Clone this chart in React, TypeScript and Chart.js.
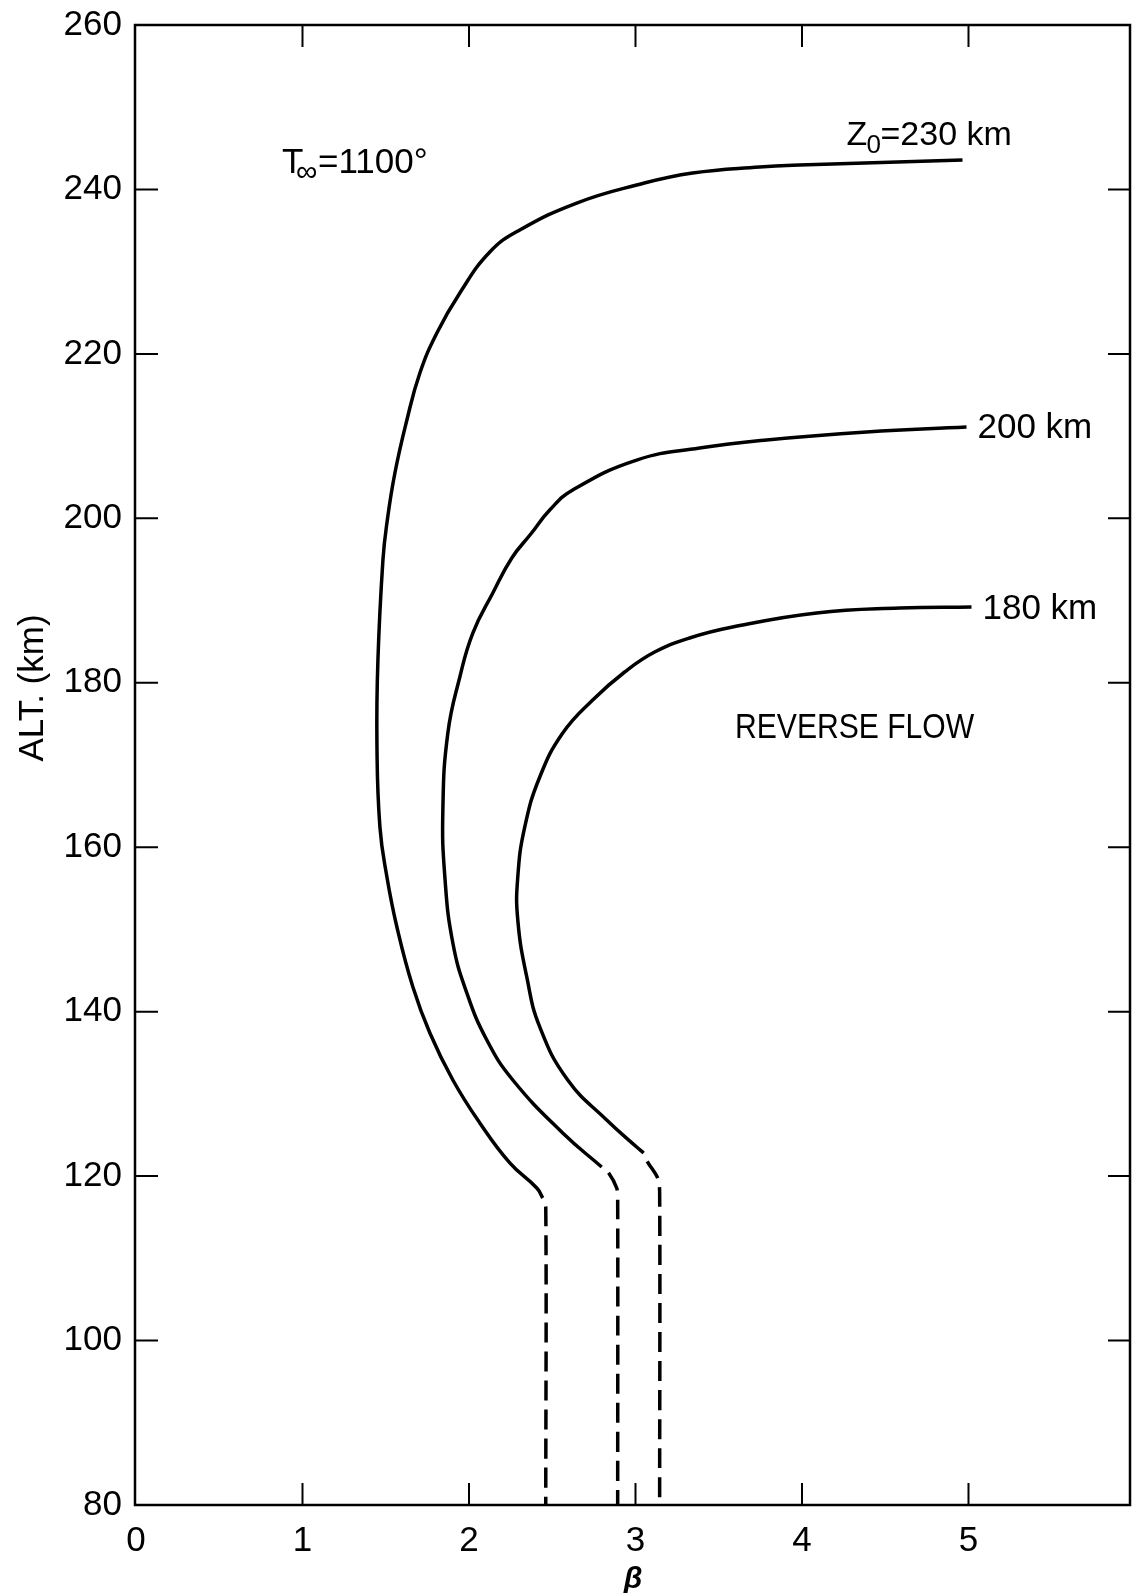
import React, { useEffect, useRef } from "react";
import { Chart, registerables } from "chart.js";

Chart.register(...registerables);

// Axis ticks
const betaTicks = [0, 1, 2, 3, 4, 5];
const altTicks = [80, 100, 120, 140, 160, 180, 200, 220, 240, 260];
const betaInnerTicks = [1, 2, 3, 4, 5];
const altInnerTicks = [100, 120, 140, 160, 180, 200, 220, 240];

// Z0 = 230 km profile (solid part, from the upper end down to the kink)
const z230Beta = [4.964, 3.986, 3.745, 3.343, 3.007, 2.647, 2.305, 2.125, 1.945, 1.807, 1.705, 1.627, 1.555, 1.507, 1.483, 1.453, 1.447, 1.465, 1.507, 1.567, 1.663, 1.765, 1.903, 2.065, 2.245, 2.407, 2.443];
const z230Alt = [243.58, 242.97, 242.73, 242.0, 240.54, 238.35, 235.07, 232.39, 227.41, 222.54, 217.68, 211.96, 205.51, 199.43, 194.93, 182.77, 172.68, 162.46, 156.38, 150.3, 143.0, 137.41, 131.69, 126.46, 121.6, 118.55, 117.34];
// dashed continuation below the kink
const z230DashBeta = [2.443, 2.461, 2.461];
const z230DashAlt = [117.34, 116.24, 80];

// Z0 = 200 km profile
const z200Beta = [4.988, 4.388, 3.788, 3.385, 3.007, 2.623, 2.485, 2.371, 2.257, 2.143, 2.023, 1.945, 1.873, 1.843, 1.855, 1.903, 1.987, 2.107, 2.263, 2.563, 2.797];
const z200Alt = [211.11, 210.5, 209.53, 208.55, 207.09, 203.45, 201.01, 198.09, 195.18, 190.92, 186.05, 180.7, 173.89, 164.53, 156.38, 148.35, 142.27, 136.55, 131.69, 125.24, 121.11];
const z200DashBeta = [2.797, 2.839, 2.887, 2.893, 2.893];
const z200DashAlt = [121.11, 120.38, 118.55, 117.09, 80];

// Z0 = 180 km profile
const z180Beta = [5.018, 4.586, 4.088, 3.583, 3.325, 3.115, 2.935, 2.743, 2.563, 2.425, 2.335, 2.293, 2.293, 2.347, 2.425, 2.593, 2.827, 3.007, 3.049];
const z180Alt = [189.22, 189.09, 188.49, 186.78, 185.45, 183.74, 181.31, 177.91, 173.89, 168.54, 162.46, 156.38, 151.15, 144.22, 138.14, 131.69, 126.82, 123.54, 122.81];
const z180DashBeta = [3.049, 3.073, 3.133, 3.145, 3.145];
const z180DashAlt = [122.81, 121.71, 119.77, 118.07, 80];

const toPoints = (xs: number[], ys: number[]) => xs.map((x, i) => ({ x, y: ys[i] }));

const FONT = '"Liberation Sans", Arial, Helvetica, sans-serif';
const INK = "#000";

const solid = (xs: number[], ys: number[]) => ({
  data: toPoints(xs, ys),
  borderColor: INK,
  borderWidth: 3.5,
  pointRadius: 0,
  tension: 0.45,
  fill: false,
});

const dashed = (xs: number[], ys: number[]) => ({
  ...solid(xs, ys),
  tension: 0.3,
  borderDash: [20, 9],
  borderDashOffset: 20,
});

// Frame, inward tick marks and the text annotations
const framePlugin = {
  id: "frameAndNotes",
  beforeDatasetsDraw(chart: any) {
    const { ctx, chartArea } = chart;
    const xs = chart.scales.x;
    const ys = chart.scales.y;
    const { left, right, top, bottom } = chartArea;
    ctx.save();
    ctx.strokeStyle = INK;
    ctx.lineWidth = 2.5;
    ctx.strokeRect(left - 1, top, right - left + 1, bottom - top);
    ctx.lineWidth = 2;
    const tl = 22;
    ctx.beginPath();
    betaInnerTicks.forEach((v) => {
      const px = xs.getPixelForValue(v);
      ctx.moveTo(px, bottom);
      ctx.lineTo(px, bottom - tl);
      ctx.moveTo(px, top);
      ctx.lineTo(px, top + tl);
    });
    altInnerTicks.forEach((v) => {
      const py = ys.getPixelForValue(v);
      ctx.moveTo(left, py);
      ctx.lineTo(left + tl, py);
      ctx.moveTo(right, py);
      ctx.lineTo(right - tl, py);
    });
    ctx.stroke();
    ctx.restore();
  },
  afterDraw(chart: any) {
    const { ctx } = chart;
    const xs = chart.scales.x;
    const ys = chart.scales.y;
    ctx.save();
    ctx.fillStyle = INK;
    ctx.textBaseline = "alphabetic";

    // Y axis title
    ctx.save();
    ctx.translate(43, 688);
    ctx.rotate(-Math.PI / 2);
    ctx.textAlign = "center";
    ctx.font = `35px ${FONT}`;
    ctx.fillText("ALT. (km)", 0, 0);
    ctx.restore();

    // X axis title
    ctx.textAlign = "center";
    ctx.font = `bold italic 30px ${FONT}`;
    ctx.fillText("β", 633, 1588);

    ctx.textAlign = "left";

    // T∞ = 1100°
    ctx.font = `35px ${FONT}`;
    ctx.fillText("T", 282, 173);
    ctx.font = `30px ${FONT}`;
    ctx.fillText("∞", 296, 181);
    ctx.font = `35px ${FONT}`;
    ctx.fillText("=1100°", 318, 173);

    // Curve labels, placed next to the right ends of the profiles
    const e230x = xs.getPixelForValue(z230Beta[0]);
    const e230y = ys.getPixelForValue(z230Alt[0]);
    ctx.font = `34px ${FONT}`;
    ctx.fillText("Z", e230x - 116, e230y - 15);
    ctx.font = `26px ${FONT}`;
    ctx.fillText("0", e230x - 96, e230y - 7);
    ctx.font = `34px ${FONT}`;
    ctx.fillText("=230 km", e230x - 82, e230y - 15);

    ctx.font = `35px ${FONT}`;
    const e200x = xs.getPixelForValue(z200Beta[0]);
    const e200y = ys.getPixelForValue(z200Alt[0]);
    ctx.fillText("200 km", e200x + 11, e200y + 11);
    const e180x = xs.getPixelForValue(z180Beta[0]);
    const e180y = ys.getPixelForValue(z180Alt[0]);
    ctx.fillText("180 km", e180x + 11, e180y + 12);

    // Region label
    ctx.save();
    ctx.translate(735, 738);
    ctx.scale(0.86, 1);
    ctx.font = `35px ${FONT}`;
    ctx.fillText("REVERSE FLOW", 0, 0);
    ctx.restore();

    ctx.restore();
  },
};

export default function App() {
  const canvasRef = useRef<HTMLCanvasElement | null>(null);

  useEffect(() => {
    const canvas = canvasRef.current;
    if (!canvas) return;
    const chart = new Chart(canvas, {
      type: "line",
      data: {
        datasets: [
          solid(z230Beta, z230Alt),
          dashed(z230DashBeta, z230DashAlt),
          solid(z200Beta, z200Alt),
          dashed(z200DashBeta, z200DashAlt),
          solid(z180Beta, z180Alt),
          dashed(z180DashBeta, z180DashAlt),
        ] as any,
      },
      options: {
        responsive: false,
        animation: false,
        devicePixelRatio: 1,
        layout: { padding: { top: 25, right: 4, left: 0, bottom: 0 } },
        plugins: {
          legend: { display: false },
          tooltip: { enabled: false },
        },
        scales: {
          x: {
            type: "linear",
            position: "bottom",
            min: 0,
            max: 5.97,
            afterBuildTicks: (s: any) => {
              s.ticks = betaTicks.map((value) => ({ value }));
            },
            afterFit: (s: any) => {
              s.height = 88;
              s.paddingLeft = 0;
              s.paddingRight = 0;
            },
            grid: { display: false, drawTicks: false },
            border: { display: false },
            ticks: {
              color: INK,
              font: { family: FONT, size: 35 },
              padding: 15,
              maxRotation: 0,
            },
          },
          y: {
            type: "linear",
            position: "left",
            min: 80,
            max: 260,
            afterBuildTicks: (s: any) => {
              s.ticks = altTicks.map((value) => ({ value }));
            },
            afterFit: (s: any) => {
              s.width = 136;
              s.paddingTop = 0;
              s.paddingBottom = 0;
            },
            grid: { display: false, drawTicks: false },
            border: { display: false },
            ticks: {
              color: INK,
              font: { family: FONT, size: 35 },
              padding: 14,
            },
          },
        },
      } as any,
      plugins: [framePlugin],
    });
    return () => chart.destroy();
  }, []);

  return (
    <div style={{ position: "absolute", left: 0, top: 0, width: 1134, height: 1593, background: "#fff" }}>
      <canvas ref={canvasRef} width={1134} height={1593} style={{ display: "block" }} />
    </div>
  );
}
